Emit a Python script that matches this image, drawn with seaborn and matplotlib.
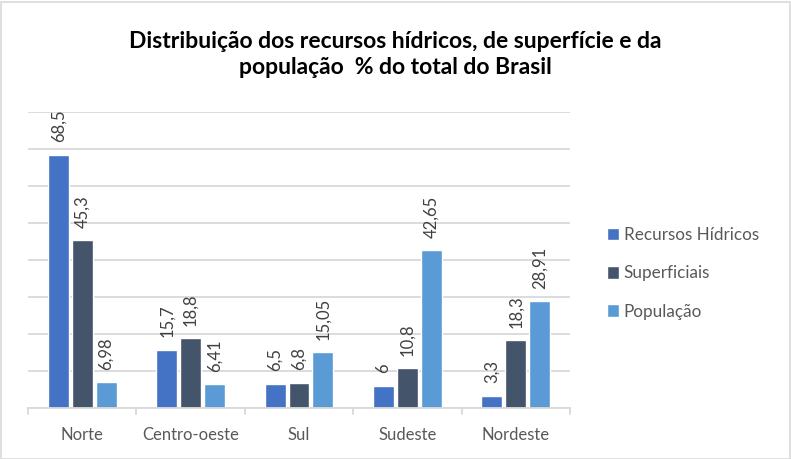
import matplotlib
matplotlib.use("Agg")
import matplotlib.pyplot as plt
import seaborn as sns
import pandas as pd
from matplotlib.patches import Rectangle

regions = ["Norte", "Centro-oeste", "Sul", "Sudeste", "Nordeste"]
series = ["Recursos Hídricos", "Superficiais", "População"]
recursos = [68.5, 15.7, 6.5, 6.0, 3.3]
superficiais = [45.3, 18.8, 6.8, 10.8, 18.3]
populacao = [6.98, 6.41, 15.05, 42.65, 28.91]
labels = {
    "Recursos Hídricos": ["68,5", "15,7", "6,5", "6", "3,3"],
    "Superficiais": ["45,3", "18,8", "6,8", "10,8", "18,3"],
    "População": ["6,98", "6,41", "15,05", "42,65", "28,91"],
}
colors = ["#4472C4", "#44546A", "#5B9BD5"]

rows = []
for s, vals in zip(series, [recursos, superficiais, populacao]):
    for r, v in zip(regions, vals):
        rows.append({"Região": r, "Série": s, "Valor": v})
df = pd.DataFrame(rows)

sns.set_theme(style="white")
plt.rcParams["font.family"] = ["Lato", "DejaVu Sans"]

fig = plt.figure(figsize=(7.91, 4.59), dpi=100)
ax = fig.add_axes([28 / 791, 51 / 459, 542 / 791, 296 / 459])

sns.barplot(data=df, x="Região", y="Valor", hue="Série", order=regions,
            hue_order=series, palette=colors, width=0.66, gap=0.12,
            saturation=1, ax=ax, legend=True)

ax.set_ylim(0, 80)
ax.set_xlim(-0.5, 4.5)
ax.set_yticks(range(0, 81, 10))
ax.set_yticklabels([])
ax.yaxis.grid(True, color="#D9D9D9", linewidth=1.3)
ax.set_axisbelow(True)
for sp in ["top", "right", "left"]:
    ax.spines[sp].set_visible(False)
ax.spines["bottom"].set_color("#D9D9D9")
ax.spines["bottom"].set_linewidth(1.3)
ax.tick_params(axis="y", length=0)
ax.set_xticks(range(5))
ax.set_xticklabels(regions, fontsize=12, color="#595959")
ax.tick_params(axis="x", length=0, pad=14)
for b in [-0.5, 0.5, 1.5, 2.5, 3.5, 4.5]:
    ax.plot([b, b], [0, -1.6], color="#D9D9D9", lw=1.3, clip_on=False)
ax.set_xlabel("")
ax.set_ylabel("")

for cont, s in zip(ax.containers, series):
    ax.bar_label(cont, labels=labels[s], rotation=90, padding=9,
                 fontsize=12, color="#404040")

leg = ax.legend(loc="center left", bbox_to_anchor=(1.055, 0.455), frameon=False,
                fontsize=12.3, handlelength=0.75, handleheight=0.75,
                handletextpad=0.25, labelspacing=1.3, borderaxespad=0)
for t in leg.get_texts():
    t.set_color("#595959")

fig.text(0.5, 428 / 459, "Distribuição dos recursos hídricos, de superfície e da\npopulação  % do total do Brasil",
         ha="center", va="top", fontsize=16.5, fontweight="bold", color="black",
         linespacing=1.3)

fig.patches.append(Rectangle((0.5 / 791, 0.5 / 459), 789 / 791, 457 / 459,
                             transform=fig.transFigure, fill=False,
                             edgecolor="#D9D9D9", linewidth=1.2))

fig.savefig("out.png", dpi=100)
